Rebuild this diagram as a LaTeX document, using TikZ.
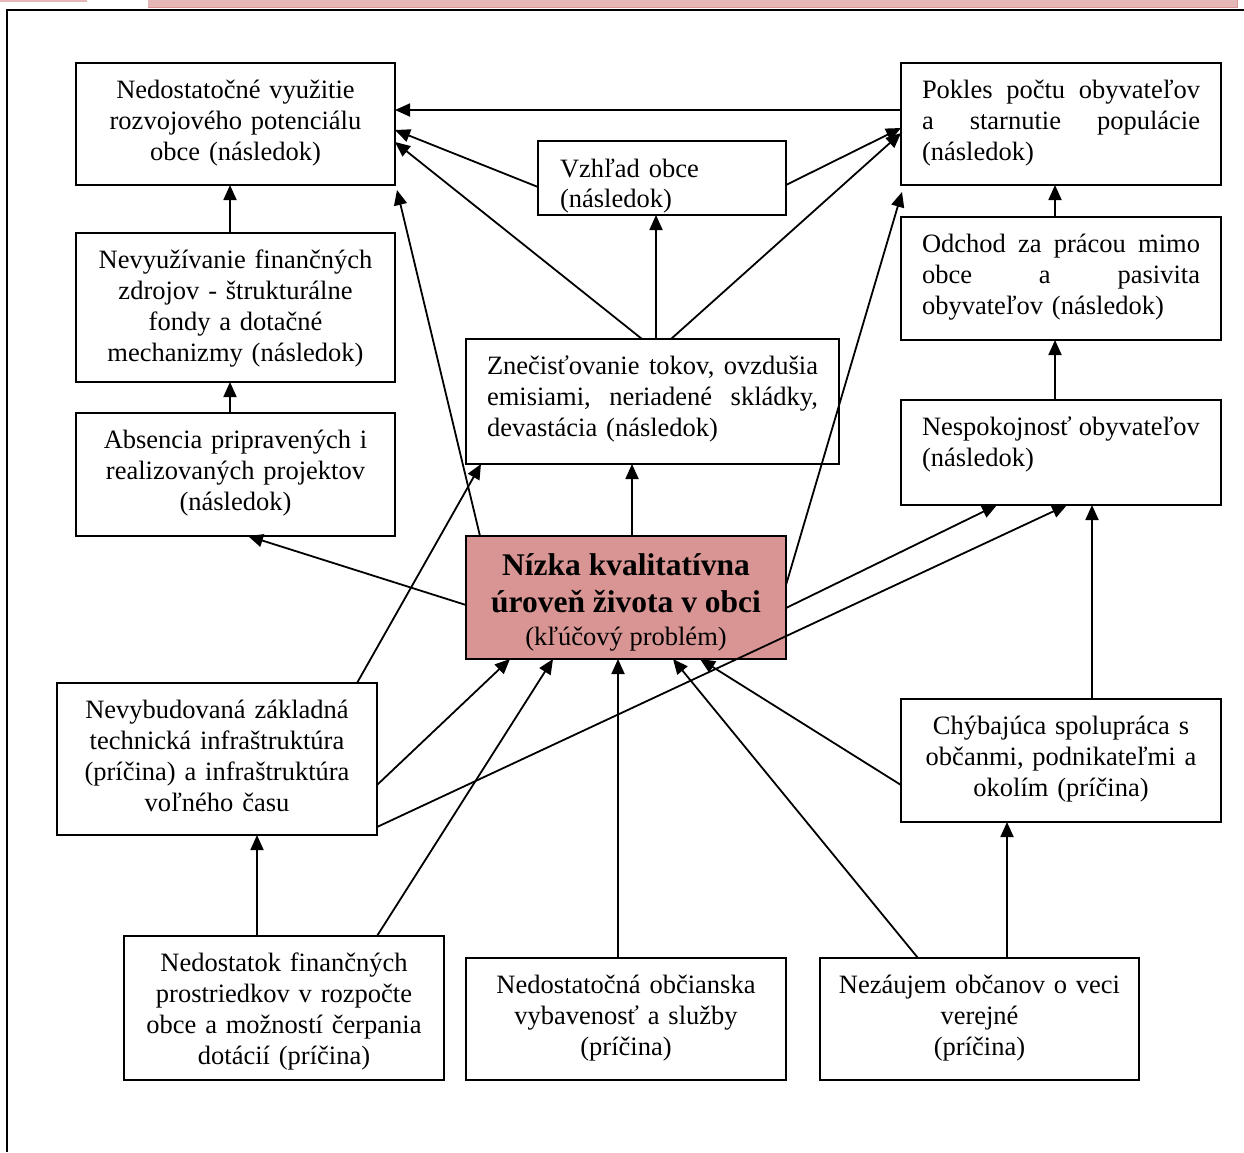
\documentclass[tikz,border=0pt]{standalone}
\usepackage{fontspec}
\setmainfont{Liberation Serif}
\usetikzlibrary{arrows.meta}
\definecolor{keyfill}{HTML}{D99594}
\definecolor{stripfill}{HTML}{E5B8B7}
\newcommand\jline[2]{\leavevmode\hbox to #1{#2}}
\newcommand\mybox[6][]{\node[box,#1,minimum width={#4-#2},minimum height={#6-#3}] (#5) at ({(#2+#4)/2},{(#3+#6)/2}) {};}
\begin{document}
\begin{tikzpicture}[x=1pt,y=-1pt,
  box/.style={draw,line width=1.8pt,fill=white,inner sep=0pt,outer sep=0pt,rectangle},
  txt/.style={inner sep=0pt,font=\fontsize{26.5}{31}\selectfont,anchor=north},
  conn/.style={line width=1.8pt,-{Triangle[length=15pt,width=13pt]}}]
\useasboundingbox (0,0) rectangle (1244,1152);
% top strip and frame
\fill[stripfill] (0,0) rectangle (87,2);
\fill[stripfill] (148,0) rectangle (1237,7);
\draw[keyfill,line width=1pt] (148,7) -- (1237,7) -- (1237,0);
\draw[line width=2pt] (7,1152) -- (7,10) -- (1244,10);
% boxes (x1,y1,x2,name,y2)
\mybox{76}{63}{395}{A}{185}
\mybox{901}{63}{1221}{B}{185}
\mybox{538}{141}{786}{C}{215}
\mybox{76}{233}{395}{D}{382}
\mybox{901}{217}{1221}{E}{340}
\mybox{466}{339}{839}{F}{464}
\mybox{76}{413}{395}{G}{536}
\mybox{901}{400}{1221}{H}{505}
\mybox[fill=keyfill]{466}{536}{786}{K}{659}
\mybox{57}{683}{377}{L}{835}
\mybox{901}{699}{1221}{M}{822}
\mybox{124}{936}{444}{N}{1080}
\mybox{466}{958}{786}{P}{1080}
\mybox{820}{958}{1139}{Q}{1080}
% texts
\node[txt,text width=290pt,align=center] (At) at ([yshift=-13.3pt]A.north) {\strut Nedostatočné využitie\\rozvojového potenciálu\\obce (následok)};
\node[txt,text width=300pt,align=left] (Bt) at ([xshift=11pt,yshift=-13.3pt]B.north) {\strut\jline{278pt}{Pokles\hfill počtu\hfill obyvateľov}\\\jline{278pt}{a\hfill starnutie\hfill populácie}\\(následok)};
\begin{scope}
\clip ([yshift=1pt]C.south west) rectangle (C.north east);
\node[txt,text width=220pt,align=left,font=\fontsize{26.5}{30}\selectfont] (Ct) at ([xshift=8pt,yshift=-15pt]C.north) {\strut Vzhľad obce\\(následok)};
\end{scope}
\draw[line width=1.8pt] (C.south west) -- (C.south east);
\node[txt,text width=290pt,align=center] (Dt) at ([yshift=-13.3pt]D.north) {\strut Nevyužívanie finančných\\zdrojov - štrukturálne\\fondy a dotačné\\mechanizmy (následok)};
\node[txt,text width=300pt,align=left] (Et) at ([xshift=11pt,yshift=-13.3pt]E.north) {\strut\jline{278pt}{Odchod\hfill za\hfill prácou\hfill mimo}\\\jline{278pt}{obce\hfill a\hfill pasivita}\\obyvateľov (následok)};
\node[txt,text width=345pt,align=left] (Ft) at ([xshift=7pt,yshift=-13.3pt]F.north) {\strut\jline{331pt}{Znečisťovanie\hfill tokov,\hfill ovzdušia}\\\jline{331pt}{emisiami,\hfill neriadené\hfill skládky,}\\devastácia (následok)};
\node[txt,text width=290pt,align=center] (Gt) at ([yshift=-13.3pt]G.north) {\strut Absencia pripravených i\\realizovaných projektov\\(následok)};
\node[txt,text width=300pt,align=left] (Ht) at ([xshift=11pt,yshift=-13.3pt]H.north) {\strut\jline{278pt}{Nespokojnosť\hfill obyvateľov}\\(následok)};
\node[anchor=base,inner sep=0pt,font=\fontsize{31.5}{37}\selectfont\bfseries] (Kt1) at ([yshift=-39pt]K.north) {Nízka kvalitatívna};
\node[anchor=base,inner sep=0pt,font=\fontsize{31.5}{37}\selectfont\bfseries] (Kt2) at ([yshift=-76pt]K.north) {úroveň života v obci};
\node[anchor=base,inner sep=0pt,font=\fontsize{26.5}{31}\selectfont] (Kt3) at ([yshift=-109pt]K.north) {(kľúčový problém)};
\node[txt,text width=290pt,align=center] (Lt) at ([yshift=-13.3pt]L.north) {\strut Nevybudovaná základná\\technická infraštruktúra\\(príčina) a infraštruktúra\\voľného času};
\node[txt,text width=290pt,align=center] (Mt) at ([yshift=-13.3pt]M.north) {\strut Chýbajúca spolupráca s\\občanmi, podnikateľmi a\\okolím (príčina)};
\node[txt,text width=300pt,align=center] (Nt) at ([yshift=-13.3pt]N.north) {\strut Nedostatok finančných\\prostriedkov v rozpočte\\obce a možností čerpania\\dotácií (príčina)};
\node[txt,text width=290pt,align=center] (Pt) at ([yshift=-13.3pt]P.north) {\strut Nedostatočná občianska\\vybavenosť a služby\\(príčina)};
\node[txt,text width=290pt,align=center] (Qt) at ([yshift=-13.3pt]Q.north) {\strut Nezáujem občanov o veci\\verejné\\(príčina)};
% connectors
\draw[conn] ([yshift=-47pt]B.north west) -- ([yshift=-47pt]A.north east);
\draw[conn] ([yshift=-46pt]C.north west) -- ([yshift=-67pt]A.north east);
\draw[conn] ([yshift=-44pt]C.north east) -- ([yshift=-65pt]B.north west);
\draw[conn] ([xshift=176pt]F.north west) -- ([yshift=-79pt]A.north east);
\draw[conn] ([xshift=190pt]F.north west) -- ([xshift=118pt]C.south west);
\draw[conn] ([xshift=205pt]F.north west) -- ([yshift=-70pt]B.north west);
\draw[conn] ([xshift=166pt]K.north west) -- ([xshift=166pt]F.south west);
\draw[conn] ([xshift=14pt]K.north west) -- ([xshift=2pt,yshift=-5pt]A.south east);
\draw[conn] ([yshift=-49pt]K.north east) -- ([xshift=1pt,yshift=-7pt]B.south west);
\draw[conn] ([xshift=154pt]D.north west) -- ([xshift=154pt]A.south west);
\draw[conn] ([xshift=154pt]G.north west) -- ([xshift=154pt]D.south west);
\draw[conn] ([yshift=-69pt]K.north west) -- ([xshift=172pt]G.south west);
\draw[conn] ([xshift=154pt]E.north west) -- ([xshift=154pt]B.south west);
\draw[conn] ([xshift=154pt]H.north west) -- ([xshift=154pt]E.south west);
\draw[conn] ([yshift=-72pt]K.north east) -- ([xshift=96pt]H.south west);
\draw[conn] ([yshift=8pt]L.south east) -- ([xshift=166pt]H.south west);
\draw[conn] ([xshift=191pt]M.north west) -- ([xshift=191pt]H.south west);
\draw[conn] ([xshift=300pt]L.north west) -- ([xshift=15pt]F.south west);
\draw[conn] ([yshift=50pt]L.south east) -- ([xshift=44pt]K.south west);
\draw[conn] ([xshift=133pt]N.north west) -- ([xshift=200pt]L.south west);
\draw[conn] ([xshift=253pt]N.north west) -- ([xshift=87pt]K.south west);
\draw[conn] ([xshift=152pt]P.north west) -- ([xshift=152pt]K.south west);
\draw[conn] ([xshift=98pt]Q.north west) -- ([xshift=207pt]K.south west);
\draw[conn] ([xshift=187pt]Q.north west) -- ([xshift=106pt]M.south west);
\draw[conn] ([yshift=37pt]M.south west) -- ([xshift=234pt]K.south west);
\end{tikzpicture}
\end{document}
